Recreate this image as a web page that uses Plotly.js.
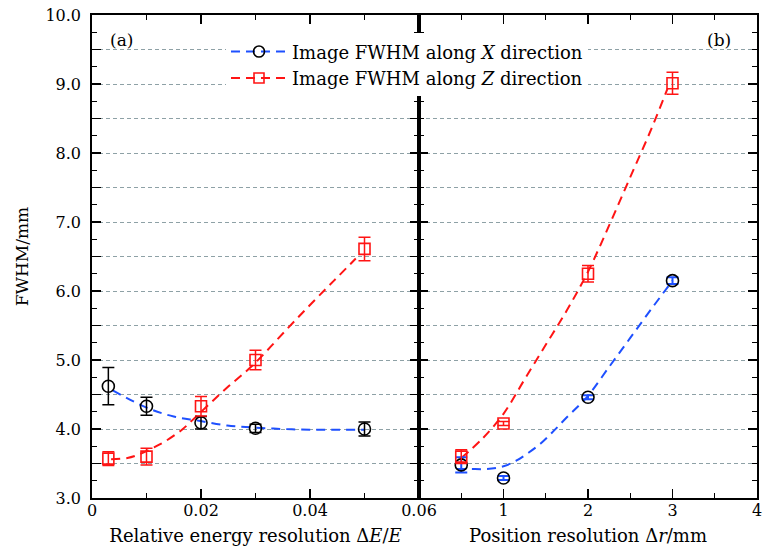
<!DOCTYPE html>
<html>
<head>
<meta charset="utf-8">
<script src="https://cdn.plot.ly/plotly-3.0.1.min.js"></script>
<style>html,body{margin:0;padding:0;background:#fff;}#chart{width:763px;height:554px;}</style>
</head>
<body>
<div id="chart"></div>
<script>
// ---- data: panel (a), relative energy resolution ----
const dE = [0.003, 0.01, 0.02, 0.03, 0.05];
const fwhmX_E = [4.62, 4.33, 4.09, 4.01, 4.00];
const errX_E = [0.27, 0.13, 0.09, 0.06, 0.10];
const fwhmZ_E = [3.57, 3.60, 4.33, 5.00, 6.61];
const errZ_E = [0.10, 0.12, 0.14, 0.14, 0.17];
// fitted curves
const fitX_E_x = [0.0038, 0.01, 0.015, 0.0196, 0.0248, 0.03, 0.035, 0.04, 0.045, 0.05];
const fitX_E_y = [4.56, 4.31, 4.18, 4.12, 4.05, 4.02, 4.00, 3.99, 3.99, 3.99];
const fitZ_E_x = [0.0035, 0.0065, 0.0086, 0.011, 0.0134, 0.0165, 0.0187, 0.0215, 0.0248, 0.0297, 0.0358, 0.0404, 0.0444, 0.0484];
const fitZ_E_y = [3.56, 3.58, 3.63, 3.72, 3.82, 3.99, 4.15, 4.36, 4.60, 4.94, 5.45, 5.83, 6.15, 6.47];

// ---- data: panel (b), position resolution ----
const dr = [0.5, 1, 2, 3];
const fwhmX_r = [3.48, 3.29, 4.46, 6.15];
const errX_r = [0.11, 0.03, 0.03, 0.05];
const fwhmZ_r = [3.60, 4.08, 6.25, 9.01];
const errZ_r = [0.10, 0.03, 0.12, 0.16];
const fitX_r_x = [0.45, 0.6, 0.8, 1.0, 1.15, 1.3, 1.45, 1.6, 1.75, 1.9, 2.0, 2.25, 2.5, 2.75, 3.0];
const fitX_r_y = [3.42, 3.42, 3.42, 3.46, 3.54, 3.66, 3.80, 3.98, 4.17, 4.35, 4.48, 4.90, 5.32, 5.74, 6.15];
const fitZ_r_x = [0.5, 0.75, 1.0, 1.25, 1.5, 1.75, 2.0, 2.25, 2.5, 2.75, 2.94];
const fitZ_r_y = [3.58, 3.86, 4.22, 4.72, 5.22, 5.72, 6.28, 6.95, 7.65, 8.35, 8.93];

// ---- ticks ----
const yTickVals = [3, 3.5, 4, 4.5, 5, 5.5, 6, 6.5, 7, 7.5, 8, 8.5, 9, 9.5, 10];
const yTickText = ['3.0', '', '4.0', '', '5.0', '', '6.0', '', '7.0', '', '8.0', '', '9.0', '', '10.0'];
const xTickValsA = [0, 0.02, 0.04, 0.06];
const xTickTextA = ['0', '0.02', '0.04', '0.06'];
const xTickValsB = [0, 1, 2, 3, 4];
const xTickTextB = ['', '1', '2', '3', '4'];
const legendNames = ['Image FWHM along <i>X</i> direction', 'Image FWHM along <i>Z</i> direction'];

const BLUE = 'rgb(30,80,255)';
const RED = 'rgb(255,20,20)';
const FONT = 'DejaVu Serif';
const dash = '9px,6px';

const traces = [
  // fits
  {x: fitX_E_x, y: fitX_E_y, xaxis: 'x', yaxis: 'y', mode: 'lines', line: {color: BLUE, width: 2, dash: dash, shape: 'spline'}, showlegend: false, hoverinfo: 'skip'},
  {x: fitZ_E_x, y: fitZ_E_y, xaxis: 'x', yaxis: 'y', mode: 'lines', line: {color: RED, width: 2, dash: dash, shape: 'spline'}, showlegend: false, hoverinfo: 'skip'},
  {x: fitX_r_x, y: fitX_r_y, xaxis: 'x2', yaxis: 'y2', mode: 'lines', line: {color: BLUE, width: 2, dash: dash, shape: 'spline'}, showlegend: false, hoverinfo: 'skip'},
  {x: fitZ_r_x, y: fitZ_r_y, xaxis: 'x2', yaxis: 'y2', mode: 'lines', line: {color: RED, width: 2, dash: dash, shape: 'spline'}, showlegend: false, hoverinfo: 'skip'},
  // points (a)
  {x: dE, y: fwhmX_E, xaxis: 'x', yaxis: 'y', mode: 'markers', showlegend: false,
   marker: {symbol: 'circle-open', size: 12, color: 'black', line: {width: 1.6}},
   error_y: {type: 'data', array: errX_E, visible: true, color: 'black', thickness: 1.5, width: 6}},
  {x: dE, y: fwhmZ_E, xaxis: 'x', yaxis: 'y', mode: 'markers', showlegend: false,
   marker: {symbol: 'square-open', size: 11, color: RED, line: {width: 1.6}},
   error_y: {type: 'data', array: errZ_E, visible: true, color: RED, thickness: 1.5, width: 6}},
  // points (b)
  {x: dr, y: fwhmX_r, xaxis: 'x2', yaxis: 'y2', mode: 'markers', showlegend: false,
   marker: {symbol: 'circle-open', size: 12, color: 'black', line: {width: 1.6}},
   error_y: {type: 'data', array: errX_r, visible: true, color: BLUE, thickness: 2, width: 6}},
  {x: dr, y: fwhmZ_r, xaxis: 'x2', yaxis: 'y2', mode: 'markers', showlegend: false,
   marker: {symbol: 'square-open', size: 11, color: RED, line: {width: 1.6}},
   error_y: {type: 'data', array: errZ_r, visible: true, color: RED, thickness: 1.5, width: 6}},
  // legend entries
  {x: [null], y: [null], xaxis: 'x', yaxis: 'y', mode: 'lines+markers', name: legendNames[0],
   line: {color: BLUE, width: 2, dash: dash}, marker: {symbol: 'circle-open', size: 11, color: 'black', line: {width: 1.6}}},
  {x: [null], y: [null], xaxis: 'x', yaxis: 'y', mode: 'lines+markers', name: legendNames[1],
   line: {color: RED, width: 2, dash: dash}, marker: {symbol: 'square-open', size: 10, color: RED, line: {width: 1.6}}}
];

const split = 327 / 665;
const common = {
  showline: true, linewidth: 1.8, linecolor: 'black', mirror: 'allticks',
  ticks: 'inside', ticklen: 9, tickwidth: 1.5, tickcolor: 'black',
  zeroline: false, showgrid: false,
  tickfont: {family: FONT, size: 16, color: 'black'}
};

const layout = {
  width: 763, height: 554,
  margin: {l: 92, r: 6, t: 15, b: 56},
  paper_bgcolor: 'white', plot_bgcolor: 'white',
  font: {family: FONT, size: 16, color: 'black'},
  xaxis: Object.assign({}, common, {
    domain: [0, split], range: [0, 0.06], anchor: 'y',
    tickmode: 'array', tickvals: xTickValsA, ticktext: xTickTextA,
    minor: {dtick: 0.01, tick0: 0, ticks: 'inside', ticklen: 5, tickwidth: 1.2, tickcolor: 'black'},
    ticklabelstandoff: -3,
    title: {text: 'Relative energy resolution Δ<i>E</i>/<i>E</i>', font: {family: FONT, size: 18}, standoff: 10}
  }),
  xaxis2: Object.assign({}, common, {
    domain: [split, 1], range: [0, 4], anchor: 'y2',
    tickmode: 'array', tickvals: xTickValsB, ticktext: xTickTextB,
    minor: {dtick: 0.5, tick0: 0, ticks: 'inside', ticklen: 5, tickwidth: 1.2, tickcolor: 'black'},
    ticklabelstandoff: -3,
    title: {text: 'Position resolution Δ<i>r</i>/mm', font: {family: FONT, size: 18}, standoff: 10}
  }),
  yaxis: Object.assign({}, common, {
    domain: [0, 1], range: [3, 10], anchor: 'x',
    tickmode: 'array', tickvals: yTickVals, ticktext: yTickText,
    showgrid: true, gridcolor: '#8ea1a6', gridwidth: 1, griddash: '4px,3px',
    minor: {dtick: 0.25, tick0: 3, ticks: 'inside', ticklen: 5, tickwidth: 1.2, tickcolor: 'black', showgrid: false},
    ticklabelstandoff: 6,
    title: {text: 'FWHM/mm', font: {family: FONT, size: 17}, standoff: 12}
  }),
  yaxis2: Object.assign({}, common, {
    domain: [0, 1], range: [3, 10], anchor: 'x2',
    tickmode: 'array', tickvals: yTickVals, ticktext: yTickText, showticklabels: false,
    showgrid: true, gridcolor: '#8ea1a6', gridwidth: 1, griddash: '4px,3px',
    minor: {dtick: 0.25, tick0: 3, ticks: 'inside', ticklen: 5, tickwidth: 1.2, tickcolor: 'black', showgrid: false}
  }),
  legend: {
    x: 0.2015, y: 0.962, xanchor: 'left', yanchor: 'top',
    bgcolor: 'white', borderwidth: 0,
    font: {family: FONT, size: 18, color: 'black'},
    tracegroupgap: 0, itemwidth: 56
  },
  annotations: [
    {text: '(a)', xref: 'paper', yref: 'paper', x: 0.045, y: 0.948, xanchor: 'center', yanchor: 'middle', showarrow: false, font: {family: FONT, size: 17}},
    {text: '(b)', xref: 'paper', yref: 'paper', x: 0.943, y: 0.948, xanchor: 'center', yanchor: 'middle', showarrow: false, font: {family: FONT, size: 17}}
  ]
};

Plotly.newPlot('chart', traces, layout, {displayModeBar: false, staticPlot: true});
</script>
</body>
</html>
